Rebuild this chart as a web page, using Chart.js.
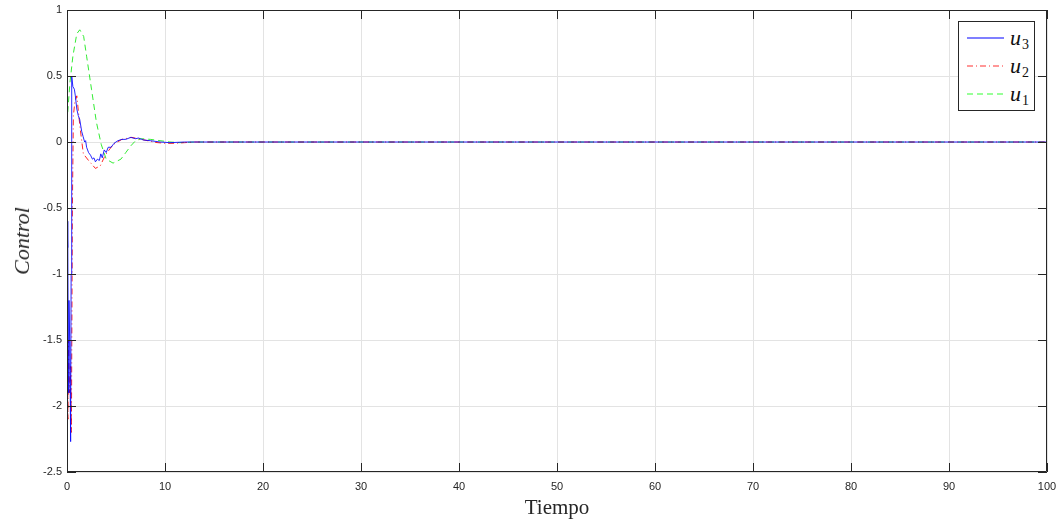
<!DOCTYPE html>
<html>
<head>
<meta charset="utf-8">
<script src="https://cdn.jsdelivr.net/npm/chart.js@4.4.1/dist/chart.umd.min.js"></script>
<style>
  body { margin: 0; background: #fff; }
  #wrap { position: relative; width: 1060px; height: 524px; }
  #chart { position: absolute; left: 0; top: 0; }
  .axtitle { position: absolute; font-family: "Liberation Serif", "DejaVu Serif", serif; color: #262626; white-space: nowrap; }
  #xtitle { left: 557px; top: 507px; transform: translate(-50%, -50%); font-size: 21px; }
  #ytitle { left: 22px; top: 241px; transform: translate(-50%, -50%) rotate(-90deg); font-size: 22px; font-style: italic; }
  #legend { position: absolute; left: 958px; top: 21px; width: 75px; height: 88px; border: 1px solid #262626; background: #fff; }
  .item { position: absolute; left: 8px; height: 20px; display: flex; align-items: center; }
  .item svg { display: block; }
  .lbl { font-family: "Liberation Serif", "DejaVu Serif", serif; font-style: italic; font-size: 22px; margin-left: 6px; color: #111; line-height: 20px; }
  .lbl sub { font-style: normal; font-size: 14px; vertical-align: -4px; line-height: 0; margin-left: 1px; }
</style>
</head>
<body>
<div id="wrap">
  <canvas id="chart" width="1060" height="524"></canvas>
  <div id="xtitle" class="axtitle">Tiempo</div>
  <div id="ytitle" class="axtitle">Control</div>
  <div id="legend">
    <div class="item" style="top:6px"><svg width="37" height="4"><line x1="0" y1="2" x2="37" y2="2" stroke="#0000ff" stroke-width="1.2"/></svg><span class="lbl">u<sub>3</sub></span></div>
    <div class="item" style="top:34px"><svg width="37" height="4"><line x1="0" y1="2" x2="37" y2="2" stroke="#ff3030" stroke-width="1.2" stroke-dasharray="6 3 1 3"/></svg><span class="lbl">u<sub>2</sub></span></div>
    <div class="item" style="top:62px"><svg width="37" height="4"><line x1="0" y1="2" x2="37" y2="2" stroke="#30ff30" stroke-width="1.2" stroke-dasharray="6 4"/></svg><span class="lbl">u<sub>1</sub></span></div>
  </div>
</div>
<script>
// tick values
const xTicks = [0, 10, 20, 30, 40, 50, 60, 70, 80, 90, 100];
const yTicks = [-2.5, -2, -1.5, -1, -0.5, 0, 0.5, 1];

// u3 (blue, solid)
const u3T = [0, 0.05, 0.1, 0.15, 0.2, 0.3, 0.37, 0.42, 0.48, 0.6, 0.75, 0.85, 1.0, 1.15, 1.3, 1.5, 1.65, 1.8, 1.9, 2.0, 2.2, 2.4, 2.6, 2.75, 2.9, 3.1, 3.3, 3.45, 3.6, 3.8, 4.0, 4.2, 4.5, 4.8, 5.2, 5.6, 6.0, 6.5, 7.0, 7.3, 7.8, 8.5, 9.5, 10.5, 12, 100];
const u3 = [-0.6, -0.8, -0.65, -1.9, -1.2, -1.6, -2.27, -1.0, 0.5, 0.42, 0.4, 0.35, 0.25, 0.2, 0.17, 0.08, 0.04, 0.0, 0.01, -0.04, -0.08, -0.1, -0.13, -0.12, -0.15, -0.13, -0.14, -0.09, -0.12, -0.06, -0.08, -0.04, -0.04, -0.01, 0.01, 0.02, 0.02, 0.035, 0.025, 0.03, 0.015, 0.01, 0.0, -0.005, 0, 0];

// u2 (red, dash-dot)
const u2T = [0, 0.05, 0.1, 0.15, 0.25, 0.35, 0.45, 0.55, 0.65, 0.8, 1.0, 1.33, 1.67, 2.2, 2.9, 3.4, 3.9, 4.7, 5.6, 6.6, 7.6, 9, 10, 11, 12, 13, 100];
const u2 = [-1.3, -1.6, -2.1, -1.5, -1.9, -1.7, -2.2, -0.5, 0.2, 0.3, 0.35, 0.11, -0.09, -0.14, -0.2, -0.18, -0.1, -0.02, 0.02, 0.035, 0.02, -0.003, -0.01, -0.01, -0.005, 0, 0];

// u1 (green, dashed)
const u1T = [0, 0.3, 0.6, 1.0, 1.3, 1.7, 2.0, 2.5, 3.0, 3.5, 4.0, 4.7, 5.5, 6.0, 6.5, 7.0, 7.6, 8.5, 9.5, 10.5, 11.5, 13, 100];
const u1 = [0.15, 0.45, 0.65, 0.82, 0.85, 0.8, 0.65, 0.4, 0.15, -0.02, -0.13, -0.16, -0.13, -0.08, -0.03, 0.01, 0.025, 0.02, 0.01, 0.0, -0.005, 0, 0];

const pts = (t, v) => t.map((x, i) => ({ x: x, y: v[i] }));

// box around the plot + inward ticks on all four sides
const boxPlugin = {
  id: 'box',
  afterDraw(chart) {
    const { ctx, chartArea: a, scales } = chart;
    ctx.save();
    ctx.strokeStyle = '#262626';
    ctx.lineWidth = 1;
    ctx.beginPath();
    ctx.rect(a.left + 0.5, a.top + 0.5, a.right - a.left - 1, a.bottom - a.top - 1);
    xTicks.forEach(v => {
      const px = Math.round(scales.x.getPixelForValue(v)) + 0.5;
      ctx.moveTo(px, a.bottom); ctx.lineTo(px, a.bottom - 9);
      ctx.moveTo(px, a.top); ctx.lineTo(px, a.top + 9);
    });
    yTicks.forEach(v => {
      const py = Math.round(scales.y.getPixelForValue(v)) + 0.5;
      ctx.moveTo(a.left, py); ctx.lineTo(a.left + 9, py);
      ctx.moveTo(a.right, py); ctx.lineTo(a.right - 9, py);
    });
    ctx.stroke();
    ctx.restore();
  }
};

new Chart(document.getElementById('chart'), {
  type: 'line',
  data: {
    datasets: [{
      label: 'u3',
      data: pts(u3T, u3),
      borderColor: 'rgba(0,0,255,0.85)',
      borderWidth: 1
    }, {
      label: 'u2',
      data: pts(u2T, u2),
      borderColor: 'rgba(255,0,0,0.85)',
      borderWidth: 1,
      borderDash: [6, 3, 1, 3]
    }, {
      label: 'u1',
      data: pts(u1T, u1),
      borderColor: 'rgba(0,230,0,0.8)',
      borderWidth: 1,
      borderDash: [6, 4]
    }]
  },
  options: {
    responsive: false,
    animation: false,
    devicePixelRatio: 1,
    layout: { padding: { top: 10, right: 13, left: 0, bottom: 0 } },
    elements: { point: { radius: 0 }, line: { tension: 0 } },
    plugins: { legend: { display: false }, tooltip: { enabled: false } },
    scales: {
      x: {
        type: 'linear',
        min: 0, max: 100,
        afterBuildTicks: s => { s.ticks = xTicks.map(v => ({ value: v })); },
        afterFit: s => { s.height = 52; s.paddingLeft = 0; s.paddingRight = 0; },
        grid: { color: '#e3e3e3', drawTicks: false },
        border: { display: false },
        ticks: { color: '#262626', padding: 8, font: { family: 'Liberation Sans, Arial, sans-serif', size: 11 }, maxRotation: 0, callback: v => String(v) }
      },
      y: {
        type: 'linear',
        min: -2.5, max: 1,
        afterBuildTicks: s => { s.ticks = yTicks.map(v => ({ value: v })); },
        afterFit: s => { s.width = 67; s.paddingTop = 0; s.paddingBottom = 0; },
        grid: { color: '#e3e3e3', drawTicks: false },
        border: { display: false },
        ticks: { color: '#262626', padding: 5, font: { family: 'Liberation Sans, Arial, sans-serif', size: 11 }, callback: v => String(v) }
      }
    }
  },
  plugins: [boxPlugin]
});
</script>
</body>
</html>
